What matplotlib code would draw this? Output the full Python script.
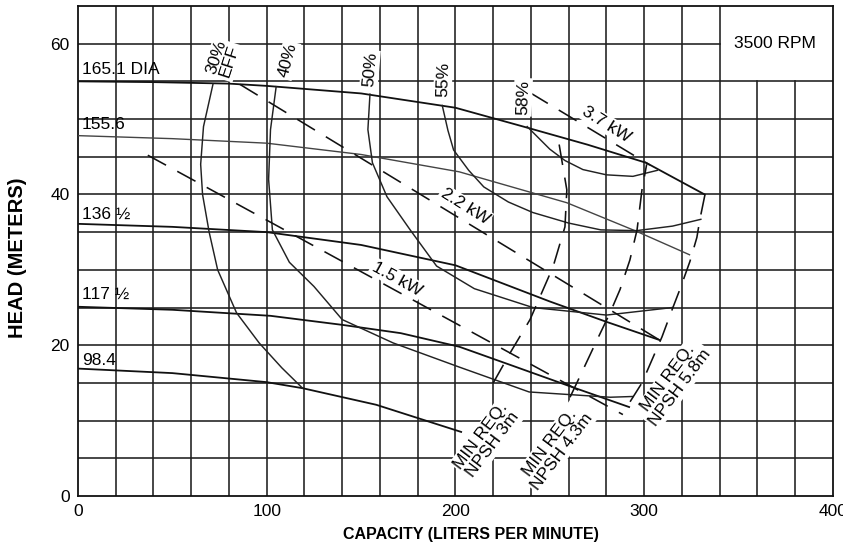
import numpy as np
import matplotlib
matplotlib.use("Agg")
import matplotlib.pyplot as plt

plt.rcParams['font.family'] = ['Liberation Sans', 'DejaVu Sans']

# impeller diameter head curves (capacity L/min, head m)
dia165_q = [0, 40, 80, 100, 150, 200, 236, 270, 301, 332]
dia165_h = [55.0, 54.9, 54.7, 54.4, 53.4, 51.5, 49.0, 46.6, 44.2, 40.0]
dia155_q = [0, 50, 100, 150, 202, 259, 296, 324]
dia155_h = [47.8, 47.4, 46.8, 45.3, 43.0, 38.9, 35.1, 32.0]
dia136_q = [0, 50, 100, 150, 200, 250, 280, 308]
dia136_h = [36.1, 35.7, 35.0, 33.3, 30.6, 25.8, 23.1, 20.7]
dia117_q = [0, 50, 102, 140, 171, 202, 230, 259, 292]
dia117_h = [25.1, 24.7, 23.9, 22.7, 21.6, 19.8, 17.3, 14.7, 11.8]
dia98_q = [0, 50, 100, 119, 158, 203]
dia98_h = [16.9, 16.3, 15.1, 14.3, 12.1, 8.5]

# efficiency curves
eff30_q = [71.5, 66.5, 65, 66, 69.5, 74, 84, 96, 108, 119]
eff30_h = [54.6, 49, 44, 40, 35, 30, 24.3, 20.3, 17, 14.3]
eff40_q = [105, 102, 101, 103, 112, 125, 140, 167, 202, 239, 282, 294]
eff40_h = [54.3, 48.6, 42, 35.3, 31, 27.8, 23.4, 20.3, 17.1, 13.8, 13.1, 13.2]
eff50_q = [154.7, 153.6, 156, 163.7, 176, 190, 210, 241, 280, 315]
eff50_h = [53.3, 48.6, 44.2, 39.7, 35.3, 30.5, 27.5, 25.0, 24.0, 25.0]
eff55_q = [193, 196, 199, 207, 215, 228, 241, 260, 277, 296, 315, 330]
eff55_h = [51.8, 48.5, 45.9, 43.2, 41, 39, 37.6, 36.2, 35.3, 35.2, 35.8, 36.7]
eff58_q = [238, 244, 250, 258, 267.5, 280, 294, 307]
eff58_h = [49, 47.5, 46, 44.5, 43.3, 42.6, 42.4, 43.2]

# power lines
kw37_q = [239.5, 303]
kw37_h = [53.5, 43.9]
kw22_q = [85.8, 308]
kw22_h = [54.6, 20.7]
kw15_q = [37, 288.7]
kw15_h = [45.2, 10.8]

# min required NPSH lines
npsh3_q = [220, 229, 239.5, 251.7, 258, 259, 254]
npsh3_h = [15, 19, 23.4, 30.4, 35.7, 40.6, 48]
npsh43_q = [260.7, 267.5, 275, 281.9, 287.2, 292.4, 296.2, 298.8, 301.3]
npsh43_h = [13.1, 16.7, 20.7, 24.3, 27.4, 31.3, 35.3, 40.6, 44.0]
npsh58_q = [292.5, 298.8, 309.4, 315.2, 318.9, 324.2, 327.9, 329.5, 332.2]
npsh58_h = [12.5, 15.0, 21.1, 25.0, 27.4, 31.1, 34.3, 36.7, 40.0]

x_ticks = [0, 100, 200, 300, 400]
y_ticks = [0, 20, 40, 60]

fig = plt.figure(figsize=(8.43, 5.48), dpi=100)
ax = fig.add_axes([0.0925, 0.0949, 0.8956, 0.8942])
ax.set_xlim(0, 400)
ax.set_ylim(0, 65)

gc = '#1e1e1e'
# grid, with the 3500 RPM box left empty
for gx in range(20, 400, 20):
    top = 55 if gx > 340 else 65
    ax.plot([gx, gx], [0, top], color=gc, lw=1.15, zorder=1)
for gy in range(5, 65, 5):
    right = 340 if gy > 55 else 400
    ax.plot([0, right], [gy, gy], color=gc, lw=1.15, zorder=1)

solid = dict(color='#111111', lw=1.3, zorder=3)
thin = dict(color='#222222', lw=1.05, zorder=3)
dash = dict(color='#111111', lw=1.15, dashes=(13, 8), zorder=3)

ax.plot(dia165_q, dia165_h, **solid)
ax.plot(dia155_q, dia155_h, color='#444444', lw=1.0, zorder=3)
ax.plot(dia136_q, dia136_h, **solid)
ax.plot(dia117_q, dia117_h, **solid)
ax.plot(dia98_q, dia98_h, **solid)

for q, h in [(eff30_q, eff30_h), (eff40_q, eff40_h), (eff50_q, eff50_h),
             (eff55_q, eff55_h), (eff58_q, eff58_h)]:
    ax.plot(q, h, **thin)

for q, h in [(kw37_q, kw37_h), (kw22_q, kw22_h), (kw15_q, kw15_h),
             (npsh3_q, npsh3_h), (npsh43_q, npsh43_h), (npsh58_q, npsh58_h)]:
    ax.plot(q, h, **dash)

fs = 12.5
box = dict(facecolor='white', edgecolor='none', boxstyle='square,pad=0.1')

# diameter labels
ax.text(2, 55.6, '165.1 DIA', fontsize=fs, va='bottom', ha='left', zorder=5)
ax.text(2, 48.3, '155.6', fontsize=fs, va='bottom', ha='left', zorder=5)
ax.text(2, 36.3, '136 ½', fontsize=fs, va='bottom', ha='left', zorder=5)
ax.text(2, 25.8, '117 ½', fontsize=fs, va='bottom', ha='left', zorder=5)
ax.text(2, 17.0, '98.4', fontsize=fs, va='bottom', ha='left', zorder=5)

# efficiency labels
ax.text(76.8, 57.9, '30%\nEFF', fontsize=fs, rotation=72, ha='center', va='center',
        linespacing=0.9, bbox=box, zorder=5)
ax.text(111, 57.8, '40%', fontsize=fs, rotation=75, ha='center', va='center', bbox=box, zorder=5)
ax.text(154.7, 56.6, '50%', fontsize=fs, rotation=85, ha='center', va='center', bbox=box, zorder=5)
ax.text(193.4, 55.3, '55%', fontsize=fs, rotation=88, ha='center', va='center', bbox=box, zorder=5)
ax.text(235.8, 52.9, '58%', fontsize=fs, rotation=88, ha='center', va='center', bbox=box, zorder=5)

# power labels
ax.text(280, 49.3, '3.7 kW', fontsize=fs, rotation=-32, ha='center', va='center', bbox=box, zorder=5)
ax.text(205, 38.4, '2.2 kW', fontsize=fs, rotation=-32, ha='center', va='center', bbox=box, zorder=5)
ax.text(169, 28.8, '1.5 kW', fontsize=fs, rotation=-29, ha='center', va='center', bbox=box, zorder=5)

# NPSH labels
for q, h, s in [(216.7, 7.4, 'MIN REQ.\nNPSH 3m'), (253, 6.5, 'MIN REQ.\nNPSH 4.3m'),
                (315.8, 15.0, 'MIN REQ.\nNPSH 5.8m')]:
    ax.text(q, h, s, fontsize=fs, rotation=53, ha='center', va='center',
            multialignment='center', linespacing=1.0, bbox=box, zorder=5)

ax.text(369, 60, '3500 RPM', fontsize=fs, ha='center', va='center', zorder=5)

ax.set_xticks(x_ticks)
ax.set_yticks(y_ticks)
ax.tick_params(length=0, labelsize=12.5, pad=6)
for s in ax.spines.values():
    s.set_linewidth(1.3)
    s.set_color('#111111')

fig.text(471 / 843, 1 - 535 / 548, 'CAPACITY (LITERS PER MINUTE)', fontsize=11.5,
         fontweight='bold', ha='center', va='center')
fig.text(18 / 843, 1 - 258 / 548, 'HEAD (METERS)', fontsize=14.5, fontweight='bold',
         rotation=90, ha='center', va='center')

fig.savefig('out.png', dpi=100)
